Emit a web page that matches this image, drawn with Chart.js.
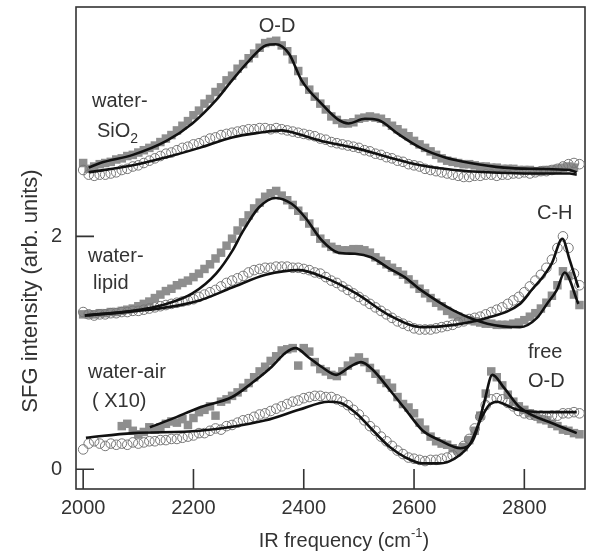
<!DOCTYPE html>
<html>
<head>
<meta charset="utf-8">
<script src="https://cdn.jsdelivr.net/npm/chart.js"></script>
<style>
  html, body { margin: 0; padding: 0; background: #fff; }
</style>
</head>
<body>
<canvas id="chart" width="591" height="555"></canvas>
<script>
// --- data (intensities already offset per interface) ---
const freq = [
  2000, 2010, 2020, 2030, 2040, 2050, 2060, 2070, 2080, 2090,
  2100, 2110, 2120, 2130, 2140, 2150, 2160, 2170, 2180, 2190,
  2200, 2210, 2220, 2230, 2240, 2250, 2260, 2270, 2280, 2290,
  2300, 2310, 2320, 2330, 2340, 2350, 2360, 2370, 2380, 2390,
  2400, 2410, 2420, 2430, 2440, 2450, 2460, 2470, 2480, 2490,
  2500, 2510, 2520, 2530, 2540, 2550, 2560, 2570, 2580, 2590,
  2600, 2610, 2620, 2630, 2640, 2650, 2660, 2670, 2680, 2690,
  2700, 2710, 2720, 2730, 2740, 2750, 2760, 2770, 2780, 2790,
  2800, 2810, 2820, 2830, 2840, 2850, 2860, 2870, 2880, 2890,
  2900
];

// water-SiO2, squares and circles
const sio2Squares = [
  2.63, 2.58, 2.60, 2.62, 2.63, 2.64, 2.66, 2.67, 2.69, 2.70,
  2.72, 2.74, 2.76, 2.78, 2.81, 2.84, 2.87, 2.91, 2.95, 2.99,
  3.04, 3.08, 3.14, 3.18, 3.24, 3.28, 3.34, 3.38, 3.44, 3.48,
  3.53, 3.57, 3.62, 3.66, 3.67, 3.68, 3.64, 3.59, 3.52, 3.42,
  3.33, 3.26, 3.20, 3.14, 3.09, 3.03, 3.00, 2.97, 2.97, 2.98,
  3.01, 3.02, 3.03, 3.02, 3.01, 2.98, 2.95, 2.92, 2.89, 2.86,
  2.82, 2.79, 2.76, 2.73, 2.70, 2.67, 2.65, 2.64, 2.63, 2.62,
  2.62, 2.61, 2.60, 2.60, 2.59, 2.59, 2.58, 2.58, 2.58, 2.57,
  2.57, 2.57, 2.56, 2.56, 2.57, 2.57, 2.58, 2.59, 2.60, 2.59,
  null
];
const sio2Circles = [
  2.57, 2.53, 2.52, 2.53, 2.53, 2.54, 2.55, 2.57, 2.58, 2.60,
  2.61, 2.63, 2.65, 2.67, 2.69, 2.71, 2.72, 2.74, 2.76, 2.77,
  2.79, 2.80, 2.82, 2.84, 2.85, 2.87, 2.88, 2.89, 2.90, 2.91,
  2.92, 2.92, 2.93, 2.93, 2.92, 2.93, 2.92, 2.91, 2.90, 2.89,
  2.88, 2.87, 2.86, 2.84, 2.83, 2.81, 2.80, 2.79, 2.78, 2.77,
  2.76, 2.74, 2.73, 2.71, 2.70, 2.68, 2.67, 2.65, 2.64, 2.62,
  2.61, 2.60, 2.58, 2.57, 2.56, 2.55, 2.54, 2.53, 2.52, 2.51,
  2.51, 2.52, 2.52, 2.53, 2.53, 2.52, 2.53, 2.53, 2.54, 2.54,
  2.55, 2.54, 2.55, 2.56, 2.56, 2.57, 2.58, 2.60, 2.62, 2.63,
  2.62
];

// water-lipid
const lipidSquares = [
  1.33, 1.33, 1.33, 1.34, 1.34, 1.35, 1.35, 1.36, 1.37, 1.38,
  1.40, 1.42, 1.44, 1.47, 1.50, 1.53, 1.55, 1.58, 1.60, 1.62,
  1.65, 1.68, 1.72, 1.76, 1.81, 1.86, 1.92, 1.98, 2.05, 2.12,
  2.18, 2.24, 2.29, 2.34, 2.37, 2.39, 2.35, 2.31, 2.27, 2.22,
  2.17, 2.11, 2.04, 1.98, 1.94, 1.91, 1.89, 1.88, 1.88, 1.89,
  1.89, 1.88, 1.86, 1.82, 1.79, 1.76, 1.73, 1.70, 1.67, 1.63,
  1.59, 1.55, 1.51, 1.47, 1.43, 1.40, 1.36, 1.33, 1.31, 1.29,
  1.28, 1.27, 1.26, 1.25, 1.25, 1.24, 1.24, 1.24, 1.25, 1.26,
  1.28, 1.31, 1.34, 1.38, 1.43, 1.49, 1.58, 1.70, 1.66, 1.50,
  1.41
];
const lipidCircles = [
  1.35, 1.33, 1.32, 1.33, 1.33, 1.34, 1.34, 1.35, 1.35, 1.36,
  1.36, 1.37, 1.38, 1.39, 1.40, 1.41, 1.42, 1.43, 1.44, 1.45,
  1.46, 1.48, 1.50, 1.52, 1.54, 1.57, 1.60, 1.62, 1.64, 1.66,
  1.69, 1.71, 1.72, 1.73, 1.73, 1.74, 1.74, 1.74, 1.73, 1.73,
  1.72, 1.71, 1.69, 1.68, 1.65, 1.62, 1.60, 1.57, 1.54, 1.51,
  1.48, 1.45, 1.42, 1.39, 1.36, 1.33, 1.30, 1.27, 1.25, 1.23,
  1.21, 1.20, 1.20, 1.20, 1.21, 1.22, 1.23, 1.24, 1.26, 1.27,
  1.29, 1.30, 1.31, 1.33, 1.35, 1.37, 1.39, 1.42, 1.45, 1.48,
  1.52, 1.57, 1.62, 1.67, 1.73, 1.80, 1.90, 2.00, 1.90, 1.68,
  1.58
];

// water-air (x10)
const airSquares = [
  null, null, null, null, null, null, null, 0.37, 0.39, 0.33,
  0.30, 0.32, 0.36, 0.34, 0.36, 0.39, 0.41, 0.40, 0.43, 0.38,
  0.44, 0.49, 0.51, 0.54, 0.46, 0.58, 0.60, 0.63, 0.66, 0.70,
  0.74, 0.79, 0.84, 0.88, 0.93, 0.97, 1.02, 1.03, 1.04, 0.89,
  1.04, 1.01, 0.92, 0.86, 0.84, 0.81, 0.80, 0.84, 0.89, 0.93,
  0.96, 0.92, 0.87, 0.82, 0.77, 0.74, 0.70, 0.62, 0.56, 0.53,
  0.48, 0.40, 0.34, 0.28, 0.24, 0.22, 0.21, 0.18, 0.16, 0.19,
  0.25, 0.33, 0.46, 0.65, 0.84, 0.79, 0.72, 0.64, 0.58, 0.54,
  0.51, 0.48, 0.46, 0.43, 0.42, 0.39, 0.37, 0.34, 0.33, 0.31,
  0.30
];
const airCircles = [
  0.17, 0.22, 0.24, 0.22, 0.20, 0.22, 0.21, 0.22, 0.21, 0.23,
  0.22, 0.23, 0.24, 0.24, 0.25, 0.25, 0.26, 0.26, 0.27, 0.28,
  0.29, 0.31, 0.31, 0.33, 0.35, 0.34, 0.37, 0.38, 0.40, 0.42,
  0.43, 0.45, 0.47, 0.48, 0.50, 0.52, 0.54, 0.56, 0.58, 0.59,
  0.61, 0.62, 0.63, 0.63, 0.62, 0.62, 0.60, 0.58, 0.55, 0.51,
  0.47, 0.42, 0.37, 0.33, 0.28, 0.24, 0.20, 0.16, 0.13, 0.10,
  0.09, 0.08, 0.07, 0.08, 0.08, 0.09, 0.10, 0.12, 0.15, 0.20,
  0.26, 0.35, 0.45, 0.55, 0.60, 0.61, 0.60, 0.57, 0.54, 0.50,
  0.48, 0.47, 0.46, 0.46, 0.45, 0.46, 0.46, 0.48, 0.48, 0.49,
  0.48
];

// fitted curves (black lines)
const sio2SqFitX = [2010, 2031, 2090, 2151, 2198, 2241, 2270, 2301, 2331, 2349, 2373, 2396, 2432, 2463, 2481, 2511, 2535, 2571, 2612, 2655, 2702, 2763, 2823, 2882, 2895];
const sio2SqFitY = [2.59, 2.63, 2.70, 2.82, 2.97, 3.17, 3.34, 3.51, 3.64, 3.65, 3.57, 3.34, 3.14, 3.00, 2.97, 3.01, 3.00, 2.88, 2.76, 2.68, 2.63, 2.59, 2.58, 2.57, 2.55];
const sio2CiFitX = [2010, 2090, 2151, 2211, 2270, 2319, 2360, 2373, 2432, 2493, 2553, 2612, 2673, 2733, 2800, 2882, 2895];
const sio2CiFitY = [2.55, 2.61, 2.68, 2.76, 2.85, 2.89, 2.91, 2.90, 2.82, 2.76, 2.68, 2.61, 2.57, 2.55, 2.54, 2.54, 2.53];

const lipidSqFitX = [2003, 2090, 2151, 2198, 2241, 2271, 2288, 2319, 2349, 2378, 2403, 2432, 2463, 2493, 2522, 2553, 2583, 2612, 2673, 2733, 2792, 2823, 2841, 2859, 2873, 2898];
const lipidSqFitY = [1.32, 1.36, 1.42, 1.51, 1.68, 1.88, 2.03, 2.25, 2.33, 2.28, 2.16, 1.97, 1.86, 1.85, 1.82, 1.73, 1.65, 1.54, 1.36, 1.25, 1.22, 1.30, 1.42, 1.54, 1.69, 1.42];
const lipidCiFitX = [2003, 2151, 2211, 2270, 2331, 2391, 2436, 2495, 2556, 2616, 2673, 2733, 2792, 2815, 2835, 2850, 2869, 2882, 2898];
const lipidCiFitY = [1.32, 1.39, 1.45, 1.56, 1.67, 1.71, 1.65, 1.51, 1.32, 1.22, 1.24, 1.30, 1.42, 1.55, 1.66, 1.77, 1.98, 1.80, 1.56];

const airSqFitX = [2121, 2160, 2211, 2270, 2306, 2342, 2367, 2385, 2409, 2432, 2459, 2484, 2504, 2526, 2556, 2585, 2616, 2646, 2684, 2709, 2727, 2742, 2763, 2792, 2853, 2895];
const airSqFitY = [0.36, 0.43, 0.53, 0.62, 0.74, 0.88, 1.00, 1.04, 0.96, 0.88, 0.81, 0.88, 0.92, 0.85, 0.68, 0.51, 0.33, 0.25, 0.18, 0.27, 0.57, 0.81, 0.70, 0.53, 0.39, 0.31];
const airCiFitX = [2005, 2090, 2211, 2331, 2391, 2445, 2466, 2495, 2526, 2556, 2585, 2616, 2646, 2673, 2702, 2720, 2736, 2751, 2763, 2787, 2841, 2895];
const airCiFitY = [0.27, 0.31, 0.33, 0.42, 0.51, 0.58, 0.57, 0.48, 0.33, 0.19, 0.10, 0.05, 0.05, 0.09, 0.22, 0.42, 0.55, 0.58, 0.56, 0.51, 0.49, 0.49];

const xTicks = [2000, 2200, 2400, 2600, 2800];
const yTicks = [0, 2];

// --- helpers ---
function pts(xs, ys) {
  return xs.map((x, i) => ({ x: x, y: ys[i] }));
}
function squares(ys) {
  return {
    data: pts(freq, ys), order: 2,
    pointStyle: 'rect', pointRadius: 6, pointBorderWidth: 0,
    pointBackgroundColor: '#8e8e8e', pointBorderColor: '#8e8e8e',
    showLine: false
  };
}
function circles(ys) {
  return {
    data: pts(freq, ys), order: 1,
    pointStyle: 'circle', pointRadius: 4.8, pointBorderWidth: 1,
    pointBackgroundColor: 'rgba(255,255,255,0)', pointBorderColor: '#777',
    showLine: false
  };
}
function fit(xs, ys) {
  return {
    data: pts(xs, ys), order: 0,
    showLine: true, pointRadius: 0, borderColor: '#111', borderWidth: 2.6,
    cubicInterpolationMode: 'monotone', fill: false
  };
}

const textColor = '#333';
const FONT = '"Liberation Sans", Arial, sans-serif';
Chart.defaults.font.family = FONT;
Chart.defaults.color = textColor;

// frame, inward ticks and all the annotation text
const decorations = {
  id: 'decorations',
  beforeDatasetsDraw(chart) {
    const { ctx, chartArea: a, scales } = chart;
    ctx.save();
    ctx.strokeStyle = '#333';
    ctx.lineWidth = 1.6;
    ctx.strokeRect(a.left, a.top, a.right - a.left, a.bottom - a.top);
    ctx.beginPath();
    yTicks.forEach(v => {
      const py = scales.y.getPixelForValue(v);
      ctx.moveTo(a.left, py); ctx.lineTo(a.left + 18, py);
    });
    xTicks.forEach(v => {
      const px = scales.x.getPixelForValue(v);
      ctx.moveTo(px, a.bottom); ctx.lineTo(px, a.bottom - 20);
    });
    ctx.stroke();
    ctx.restore();
  },
  afterDraw(chart) {
    const { ctx } = chart;
    ctx.save();
    ctx.fillStyle = textColor;
    ctx.textBaseline = 'alphabetic';
    const f = (s) => s + 'px ' + FONT;

    ctx.font = f(20);
    ctx.textAlign = 'center';
    ctx.fillText('O-D', 277, 32);
    ctx.textAlign = 'left';
    ctx.fillText('water-', 92, 107);
    ctx.fillText('SiO', 97, 137);
    const w = ctx.measureText('SiO').width;
    ctx.font = f(14);
    ctx.fillText('2', 97 + w, 143);
    ctx.font = f(20);
    ctx.fillText('water-', 88, 262);
    ctx.fillText('lipid', 93, 289);
    ctx.fillText('water-air', 88, 378);
    ctx.fillText('( X10)', 92, 407);
    ctx.fillText('C-H', 537, 219);
    ctx.fillText('free', 528, 358);
    ctx.fillText('O-D', 528, 387);

    // x title with superscript
    const main = 'IR frequency (cm';
    const sup = '-1';
    ctx.font = f(20);
    const w1 = ctx.measureText(main).width;
    const w3 = ctx.measureText(')').width;
    ctx.font = f(13);
    const w2 = ctx.measureText(sup).width;
    let x0 = 344 - (w1 + w2 + w3) / 2;
    ctx.font = f(20);
    ctx.fillText(main, x0, 547);
    ctx.font = f(13);
    ctx.fillText(sup, x0 + w1, 537);
    ctx.font = f(20);
    ctx.fillText(')', x0 + w1 + w2, 547);

    // y title
    ctx.translate(37, 291);
    ctx.rotate(-Math.PI / 2);
    ctx.textAlign = 'center';
    ctx.font = f(22);
    ctx.fillText('SFG intensity (arb. units)', 0, 0);
    ctx.restore();
  }
};

new Chart(document.getElementById('chart'), {
  type: 'scatter',
  data: {
    datasets: [
      squares(sio2Squares), circles(sio2Circles),
      squares(lipidSquares), circles(lipidCircles),
      squares(airSquares), circles(airCircles),
      fit(sio2SqFitX, sio2SqFitY), fit(sio2CiFitX, sio2CiFitY),
      fit(lipidSqFitX, lipidSqFitY), fit(lipidCiFitX, lipidCiFitY),
      fit(airSqFitX, airSqFitY), fit(airCiFitX, airCiFitY)
    ]
  },
  options: {
    responsive: false,
    animation: false,
    layout: { padding: { top: 7, right: 3, left: 0, bottom: 0 } },
    plugins: { legend: { display: false }, tooltip: { enabled: false } },
    scales: {
      x: {
        type: 'linear', min: 1987, max: 2910,
        grid: { display: false, drawTicks: false },
        border: { display: false },
        ticks: { font: { size: 20 }, color: textColor, padding: 7, callback: v => String(v) },
        afterBuildTicks: s => { s.ticks = xTicks.map(v => ({ value: v })); },
        afterFit: s => { s.height = 66; s.paddingLeft = 0; s.paddingRight = 0; }
      },
      y: {
        type: 'linear', min: -0.17, max: 3.97,
        grid: { display: false, drawTicks: false },
        border: { display: false },
        ticks: { font: { size: 20 }, color: textColor, padding: 14, callback: v => String(v) },
        afterBuildTicks: s => { s.ticks = yTicks.map(v => ({ value: v })); },
        afterFit: s => { s.width = 76; s.paddingTop = 0; s.paddingBottom = 0; }
      }
    }
  },
  plugins: [decorations]
});
</script>
</body>
</html>
